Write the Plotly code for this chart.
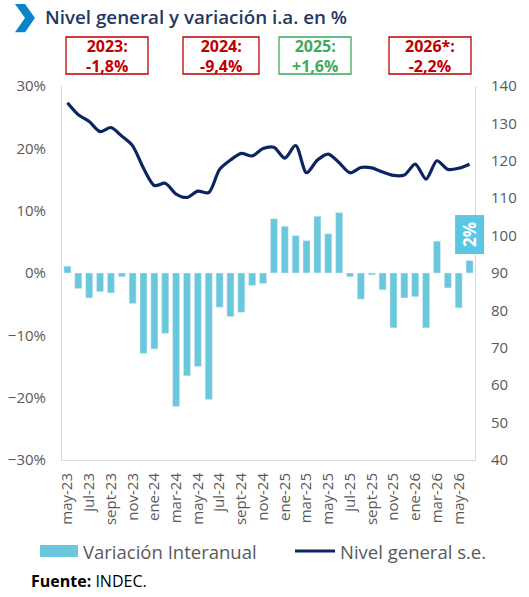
import plotly.graph_objects as go

# months may-23 .. jun-26
meses = ["may", "jun", "jul", "ago", "sept", "oct", "nov", "dic",
         "ene", "feb", "mar", "abr"]
categorias = []
anio = 23
for k in range(38):
    mes = meses[k % 12]
    if mes == "ene":
        anio += 1
    categorias.append(f"{mes}-{anio}")

variacion = [1.1, -2.5, -4.0, -3.0, -3.2, -0.6, -4.9, -12.9, -12.2, -9.7,
             -21.4, -16.5, -15.0, -20.3, -5.5, -7.0, -6.3, -2.0, -1.7, 8.7,
             7.5, 6.0, 5.2, 9.1, 6.3, 9.7, -0.6, -4.2, -0.3, -2.7,
             -8.8, -4.0, -3.8, -8.8, 5.1, -2.4, -5.6, 2.0]

nivel = [135.5, 132.3, 130.5, 127.8, 128.9, 126.6, 124.0, 118.0, 113.4, 114.0,
         111.1, 110.2, 111.9, 111.5, 117.7, 120.2, 122.0, 121.3, 123.3, 123.6,
         120.7, 124.1, 116.8, 120.2, 121.8, 119.5, 116.8, 118.2, 118.1, 117.0,
         116.1, 116.2, 119.1, 115.1, 120.0, 117.7, 118.0, 119.1]

anios = ["2023:", "2024:", "2025:", "2026*:"]
anual = ["-1,8%", "-9,4%", "+1,6%", "-2,2%"]

tick_labels = categorias[::2]

BAR_COLOR = "#6ac8dc"
LINE_COLOR = "#0c2461"
GRAY = "#595959"

fig = go.Figure()

fig.add_trace(go.Bar(
    x=categorias, y=variacion, name="Variación Interanual",
    marker=dict(color=BAR_COLOR), yaxis="y"
))
fig.add_trace(go.Scatter(
    x=categorias, y=nivel, name="Nivel general s.e.", mode="lines",
    line=dict(color=LINE_COLOR, width=3.2, shape="spline", smoothing=0.8),
    yaxis="y2"
))

axis_font = dict(family="Open Sans", size=15, color=GRAY)

fig.update_layout(
    width=529, height=597,
    margin=dict(l=62, r=54, t=86, b=137, autoexpand=False),
    plot_bgcolor="white", paper_bgcolor="white",
    bargap=0.35,
    showlegend=False,
    xaxis=dict(type="category", range=[-0.5, 37.5], tickvals=tick_labels,
               ticktext=tick_labels, tickangle=-90, tickfont=axis_font,
               showline=True, linecolor="#d9d9d9", linewidth=1, ticks="",
               showgrid=False, automargin=False, ticklabelstandoff=6),
    yaxis=dict(range=[-30, 30], dtick=10, ticksuffix="%", tickfont=axis_font,
               showgrid=False, zeroline=False, showline=True, linecolor="#d9d9d9",
               automargin=False, ticklabelstandoff=12),
    yaxis2=dict(range=[40, 140], dtick=10, overlaying="y", side="right",
                tickfont=axis_font, showgrid=False, zeroline=False,
                showline=True, linecolor="#d9d9d9", automargin=False,
                ticklabelstandoff=12),
)

# title with chevron
fig.add_shape(type="path", xref="paper", yref="paper",
              path="M -0.1138 1.219 L -0.0896 1.219 L -0.0654 1.182 L -0.0896 1.144 "
                   "L -0.1138 1.144 L -0.0896 1.182 Z",
              fillcolor="#0a84c8", line=dict(width=0))
fig.add_annotation(text="Nivel general y variación i.a. en %", xref="paper", yref="paper",
                   x=-0.0455, y=1.184, xanchor="left", yanchor="middle", showarrow=False,
                   font=dict(family="Open Sans", size=18.8, color="#1f3864", weight=600))

# yearly boxes
box_x0 = [66, 183, 279, 389]
box_x1 = [148, 259, 351, 471]
for i in range(4):
    verde = anual[i].startswith("+")
    col = "#3daa5c" if verde else "#c00000"
    x0 = (box_x0[i] - 62) / 413
    x1 = (box_x1[i] - 62) / 413
    fig.add_shape(type="rect", xref="paper", yref="paper",
                  x0=x0, x1=x1, y0=(460 - 74) / 374, y1=(460 - 37) / 374,
                  line=dict(color=col, width=1.3), fillcolor="white")
    fig.add_annotation(text=f"<b>{anios[i]}<br>{anual[i]}</b>", xref="paper", yref="paper",
                       x=(x0 + x1) / 2, y=(460 - 56) / 374, xanchor="center",
                       yanchor="middle", showarrow=False, align="center",
                       font=dict(family="Open Sans", size=16, color=col),
                       height=36, borderpad=0)

# last value label
fig.add_annotation(text="<b>2%</b>", x=categorias[-1], y=6.1, xref="x", yref="y",
                   showarrow=False, textangle=-90, bgcolor="#5bc8e3",
                   font=dict(family="Open Sans", size=17, color="white"),
                   width=38, height=28, borderpad=0)

# legend drawn by hand
fig.add_shape(type="rect", xref="paper", yref="paper",
              x0=(40 - 62) / 413, x1=(78 - 62) / 413,
              y0=(460 - 557) / 374, y1=(460 - 545) / 374,
              fillcolor=BAR_COLOR, line=dict(width=0))
fig.add_annotation(text="Variación Interanual", xref="paper", yref="paper",
                   x=(81 - 62) / 413, y=(460 - 551) / 374, xanchor="left",
                   yanchor="middle", showarrow=False,
                   font=dict(family="Open Sans", size=18.5, color=GRAY))
fig.add_shape(type="line", xref="paper", yref="paper",
              x0=(295 - 62) / 413, x1=(335 - 62) / 413,
              y0=(460 - 551) / 374, y1=(460 - 551) / 374,
              line=dict(color=LINE_COLOR, width=3))
fig.add_annotation(text="Nivel general s.e.", xref="paper", yref="paper",
                   x=(338 - 62) / 413, y=(460 - 551) / 374, xanchor="left",
                   yanchor="middle", showarrow=False,
                   font=dict(family="Open Sans", size=18.5, color=GRAY))

fig.add_annotation(text="<b>Fuente:</b> INDEC.", xref="paper", yref="paper",
                   x=(29 - 62) / 413, y=(460 - 581) / 374, xanchor="left",
                   yanchor="middle", showarrow=False,
                   font=dict(family="Open Sans", size=16, color="black"))

fig.write_html("out.html", config={"displayModeBar": False},
               post_script="document.body.style.margin='0px';"
                           "document.body.style.overflow='hidden';")
